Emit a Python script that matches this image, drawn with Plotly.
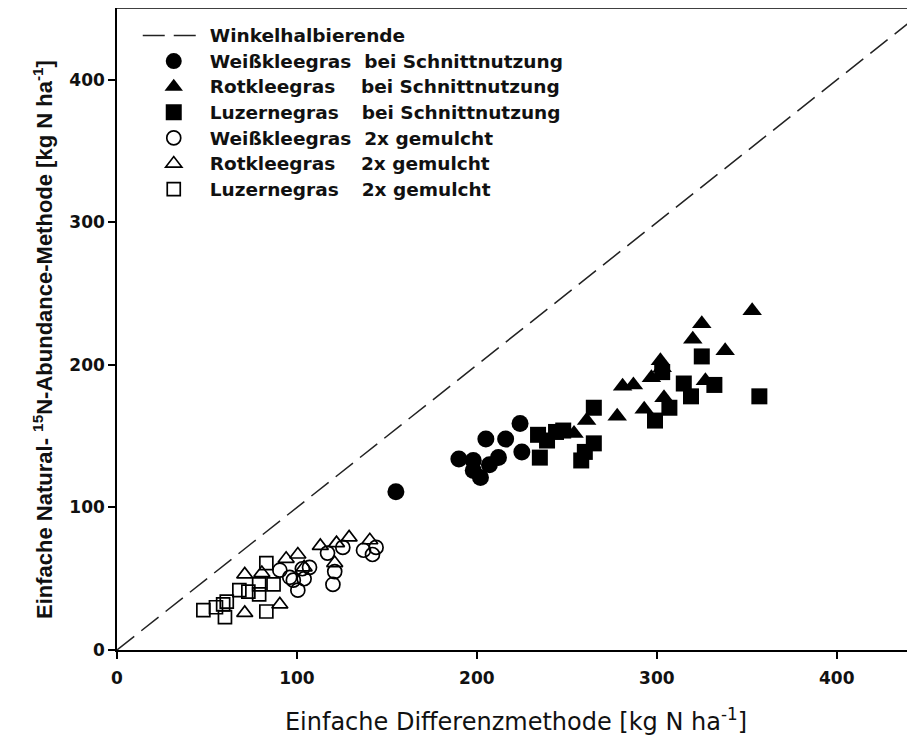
import plotly.graph_objects as go

# ---- data (kg N ha-1) ----
diag_x = [0, 460]
diag_y = [0, 460]

wk_schnitt_x = [155, 190, 198, 198, 202, 207, 212, 205, 216, 225, 224]
wk_schnitt_y = [111, 134, 133, 126, 121, 130, 135, 148, 148, 139, 159]

rk_schnitt_x = [254, 261, 278, 281, 287, 293, 297, 302, 303, 304, 320, 325, 327, 338, 353]
rk_schnitt_y = [152, 161, 164, 185, 186, 169, 191, 203, 198, 177, 218, 229, 189, 210, 238]

lz_schnitt_x = [234, 235, 239, 244, 248, 258, 260, 265, 265, 299, 303, 307, 315, 319, 325, 332, 357]
lz_schnitt_y = [151, 135, 147, 153, 154, 133, 139, 145, 170, 161, 195, 170, 187, 178, 206, 186, 178]

wk_mulch_x = [90.5, 96, 98, 100.5, 103, 104, 107, 117, 120, 121, 125.5, 137, 142, 144]
wk_mulch_y = [56, 51, 49, 42, 57, 50, 58, 68, 46, 55, 72, 70, 67, 72]

rk_mulch_x = [71, 71, 80.5, 90.5, 94, 100.5, 104, 113, 121, 122, 129, 140.5]
rk_mulch_y = [53, 26, 54, 32, 64, 67, 58, 73, 61, 75, 79, 77]

lz_mulch_x = [48, 55, 59, 60, 61, 68, 73, 79, 79, 87, 83, 83]
lz_mulch_y = [28, 30, 32, 23, 34, 42, 41, 39, 46, 46, 61, 27]

x_ticks = [0, 100, 200, 300, 400]
y_ticks = [0, 100, 200, 300, 400]

x_title = "Einfache Differenzmethode [kg N ha<sup>-1</sup>]"
y_title = "Einfache Natural- <sup>15</sup>N-Abundance-Methode [kg N ha<sup>-1</sup>]"

NB = "\u00a0"
TH = "\u2009"
names = [
    "Winkelhalbierende",
    "Weißkleegras" + NB * 2 + "bei Schnittnutzung",
    "Rotkleegras" + NB * 4 + "bei Schnittnutzung",
    "Luzernegras" + NB * 3 + TH + "bei Schnittnutzung",
    "Weißkleegras" + NB * 2 + "2x gemulcht",
    "Rotkleegras" + NB * 4 + "2x gemulcht",
    "Luzernegras" + NB * 3 + TH + "2x gemulcht",
]
LEG_SPAN = '<span style="font-size:18.5px">{}</span>'

fig = go.Figure()
fig.add_trace(go.Scatter(x=diag_x, y=diag_y, mode="lines", name=LEG_SPAN.format(names[0]),
                         line=dict(color="#222222", width=1.5, dash="22px,9px")))

filled = [(wk_schnitt_x, wk_schnitt_y, "circle", 17),
          (rk_schnitt_x, rk_schnitt_y, "triangle-up", 17),
          (lz_schnitt_x, lz_schnitt_y, "square", 16)]
for i, (xs, ys, sym, sz) in enumerate(filled):
    fig.add_trace(go.Scatter(x=xs, y=ys, mode="markers", name=LEG_SPAN.format(names[i + 1]),
                             marker=dict(symbol=sym, size=sz, color="black",
                                         line=dict(width=0))))

opened = [(wk_mulch_x, wk_mulch_y, "circle-open", 14),
          (rk_mulch_x, rk_mulch_y, "triangle-up-open", 14),
          (lz_mulch_x, lz_mulch_y, "square-open", 13)]
for i, (xs, ys, sym, sz) in enumerate(opened):
    fig.add_trace(go.Scatter(x=xs, y=ys, mode="markers", name=LEG_SPAN.format(names[i + 4]),
                             marker=dict(symbol=sym, size=sz, color="black",
                                         line=dict(width=1.7, color="black"))))

tickfont = dict(family="DejaVu Sans, sans-serif", size=17,
                color="#111111", weight="bold")

# page has an 8px body margin: figure is shifted by 8px right/down
fig.update_layout(
    width=907, height=728,
    margin=dict(l=109, r=0, t=0, b=86),
    paper_bgcolor="white", plot_bgcolor="white",
    showlegend=True,
    legend=dict(x=0.026, y=0.985, xanchor="left", yanchor="top",
                bgcolor="rgba(0,0,0,0)", borderwidth=0, itemwidth=62,
                font=dict(family="DejaVu Sans, sans-serif", size=17.4,
                          color="#111111", weight="bold"),
                tracegroupgap=0, itemsizing="trace"),
    xaxis=dict(range=[0, 443.5], tickvals=x_ticks, ticks="outside", ticklen=7,
               tickwidth=1.5, tickcolor="black", showline=True, linecolor="black",
               linewidth=1.5, showgrid=False, zeroline=False, mirror=False,
               tickfont=tickfont, automargin=False, ticklabelstandoff=5,
               title=dict(text=x_title,
                          font=dict(family="DejaVu Sans, sans-serif",
                                    size=24, color="#111111"),
                          standoff=27)),
    yaxis=dict(range=[0, 450.5], tickvals=y_ticks, ticks="outside", ticklen=7,
               tickwidth=1.5, tickcolor="black", showline=True, linecolor="black",
               linewidth=1.5, showgrid=False, zeroline=False, mirror=False,
               tickfont=tickfont, automargin=False),
    annotations=[dict(text=y_title, textangle=-90, xref="paper", yref="paper",
                      x=-0.0927, y=0.483, xanchor="center", yanchor="middle",
                      showarrow=False,
                      font=dict(family="Liberation Sans, Arial, sans-serif",
                                size=22, color="#111111", weight="bold"))],
    shapes=[dict(type="line", xref="paper", yref="paper", x0=0, x1=1, y0=1, y1=1,
                 line=dict(color="black", width=1.5))],
)

fig.write_html("out.html")
